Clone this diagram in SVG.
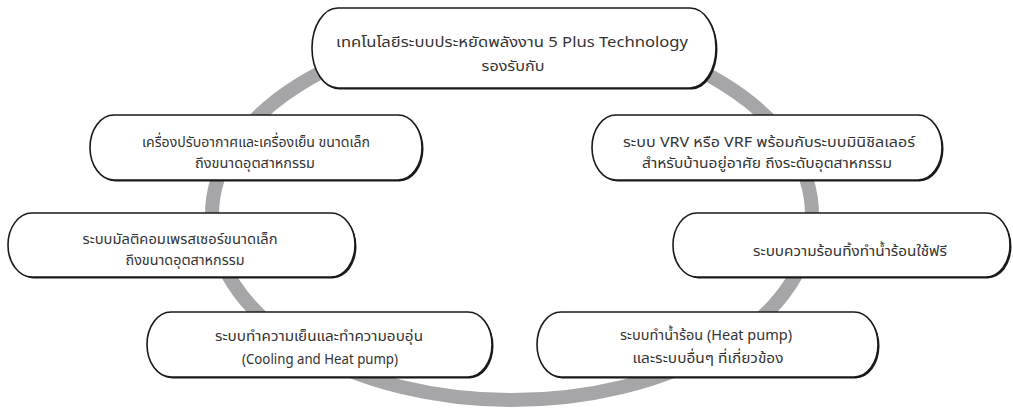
<svg xmlns="http://www.w3.org/2000/svg" width="1013" height="409" viewBox="0 0 1013 409">
<style>
.ring{fill:none;stroke:#a6a6a9;stroke-width:14}
.sh{fill:#1a1a1a;stroke:none}
.bx{fill:#ffffff;stroke:#1a1a1a;stroke-width:1.6}
.t{font-family:"Noto Sans Thai","Noto Sans","Liberation Sans",sans-serif;font-size:14.5px;fill:#333333;text-anchor:middle}
</style>
<rect width="1013" height="409" fill="#ffffff"/>
<g id="connectors">
<ellipse class="ring" cx="512" cy="215" rx="300" ry="185"/>
</g>
<g id="top">
<rect class="sh" x="313.5" y="9.5" width="404" height="80" rx="26" ry="40"/>
<rect class="bx" x="312" y="8" width="404" height="80" rx="26" ry="40"/>
<text class="t" x="512" y="47" textLength="352" lengthAdjust="spacingAndGlyphs">เทคโนโลยีระบบประหยัดพลังงาน 5 Plus Technology</text>
<text class="t" x="513" y="71" textLength="63" lengthAdjust="spacingAndGlyphs">รองรับกับ</text>
</g>
<g id="n1">
<rect class="sh" x="91.5" y="116.5" width="332" height="65" rx="24" ry="32.5"/>
<rect class="bx" x="90" y="115" width="332" height="65" rx="24" ry="32.5"/>
<text class="t" x="256" y="147" textLength="228" lengthAdjust="spacingAndGlyphs">เครื่องปรับอากาศและเครื่องเย็น ขนาดเล็ก</text>
<text class="t" x="255" y="168" textLength="120" lengthAdjust="spacingAndGlyphs">ถึงขนาดอุตสาหกรรม</text>
</g>
<g id="n2">
<rect class="sh" x="593.5" y="116.5" width="350" height="65" rx="24" ry="32.5"/>
<rect class="bx" x="592" y="115" width="350" height="65" rx="24" ry="32.5"/>
<text class="t" x="769" y="147" textLength="292" lengthAdjust="spacingAndGlyphs">ระบบ VRV หรือ VRF พร้อมกับระบบมินิชิลเลอร์</text>
<text class="t" x="767" y="168" textLength="250" lengthAdjust="spacingAndGlyphs">สำหรับบ้านอยู่อาศัย ถึงระดับอุตสาหกรรม</text>
</g>
<g id="n3">
<rect class="sh" x="9.5" y="214.5" width="347" height="64" rx="24" ry="32"/>
<rect class="bx" x="8" y="213" width="347" height="64" rx="24" ry="32"/>
<text class="t" x="180" y="244" textLength="195" lengthAdjust="spacingAndGlyphs">ระบบมัลติคอมเพรสเซอร์ขนาดเล็ก</text>
<text class="t" x="185" y="265" textLength="119" lengthAdjust="spacingAndGlyphs">ถึงขนาดอุตสาหกรรม</text>
</g>
<g id="n4">
<rect class="sh" x="674.5" y="214.5" width="337" height="64" rx="24" ry="32"/>
<rect class="bx" x="673" y="213" width="337" height="64" rx="24" ry="32"/>
<text class="t" x="850" y="256" textLength="194" lengthAdjust="spacingAndGlyphs">ระบบความร้อนทิ้งทำน้ำร้อนใช้ฟรี</text>
</g>
<g id="n5">
<rect class="sh" x="148.5" y="313.5" width="345" height="65" rx="24" ry="32.5"/>
<rect class="bx" x="147" y="312" width="345" height="65" rx="24" ry="32.5"/>
<text class="t" x="319" y="341" textLength="208" lengthAdjust="spacingAndGlyphs">ระบบทำความเย็นและทำความอบอุ่น</text>
<text class="t" x="320" y="364" textLength="156" lengthAdjust="spacingAndGlyphs">(Cooling and Heat pump)</text>
</g>
<g id="n6">
<rect class="sh" x="538.5" y="313.5" width="341" height="65" rx="24" ry="32.5"/>
<rect class="bx" x="537" y="312" width="341" height="65" rx="24" ry="32.5"/>
<text class="t" x="706" y="340" textLength="172" lengthAdjust="spacingAndGlyphs">ระบบทำน้ำร้อน (Heat pump)</text>
<text class="t" x="708" y="363" textLength="151" lengthAdjust="spacingAndGlyphs">และระบบอื่นๆ ที่เกี่ยวข้อง</text>
</g>
</svg>
